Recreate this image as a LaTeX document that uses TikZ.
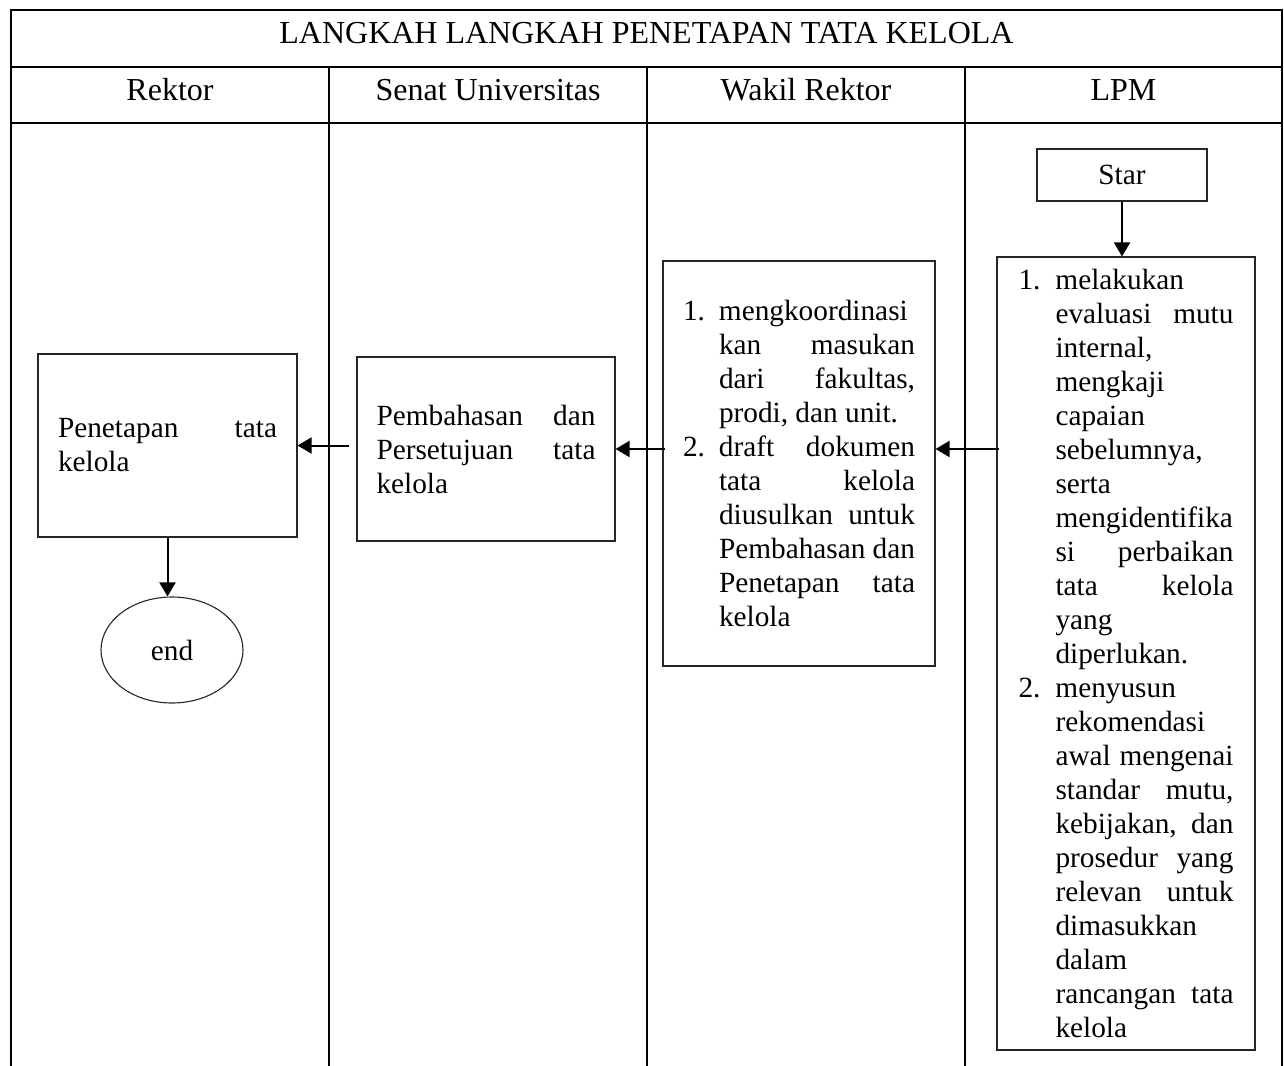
\documentclass[tikz,border=0pt]{standalone}
\usepackage{fontspec}
\setmainfont{Liberation Serif}
\usetikzlibrary{shapes.geometric,arrows.meta}
\newcommand{\jl}[2]{\makebox[#1][s]{#2}}
\begin{document}
\begin{tikzpicture}[x=1pt,y=-1pt,
  tbl/.style={line width=2.2pt},
  boxnode/.style={draw=black!85, line width=1.1pt, rectangle, inner sep=0pt, align=left,
    font=\fontsize{29.3}{34}\selectfont},
  hdr/.style={font=\fontsize{32}{37}\selectfont, anchor=base, inner sep=0pt},
  arr/.style={line width=2pt, -{Triangle[length=14pt,width=16pt]}}
]
\useasboundingbox (0,0) rectangle (1284,1065);

% table grid
\draw[tbl, line join=miter] (11,1070) -- (11,10) -- (1282,10) -- (1282,1070);
\draw[tbl] (11,67) -- (1282,67);
\draw[tbl] (11,123) -- (1282,123);
\foreach \x in {329,647,965} \draw[tbl] (\x,67) -- (\x,1070);

% headers
\node[hdr] (title) at (646.5,44) {LANGKAH LANGKAH PENETAPAN TATA KELOLA};
\node[hdr] (hrektor) at (170,100) {Rektor};
\node[hdr] (hsenat) at (488,100) {Senat Universitas};
\node[hdr] (hwakil) at (806,100) {Wakil Rektor};
\node[hdr] (hlpm) at (1123.5,100) {LPM};

% boxes
\node[boxnode, minimum width=259pt, minimum height=183pt] (rektor) at (167.5,445.5)
  {\jl{219pt}{Penetapan tata}\\ kelola};
\node[boxnode, minimum width=258pt, minimum height=184pt] (senat) at (486,449)
  {\jl{219pt}{Pembahasan dan}\\ \jl{219pt}{Persetujuan tata}\\ kelola};
\node[boxnode, minimum width=272pt, minimum height=405pt] (wakil) at (799,463.5)
  {\makebox[36pt][l]{1.}mengkoordinasi\\
   \hspace*{36pt}\jl{196pt}{kan masukan}\\
   \hspace*{36pt}\jl{196pt}{dari fakultas,}\\
   \hspace*{36pt}prodi, dan unit.\\
   \makebox[36pt][l]{2.}\jl{196pt}{draft dokumen}\\
   \hspace*{36pt}\jl{196pt}{tata kelola}\\
   \hspace*{36pt}\jl{196pt}{diusulkan untuk}\\
   \hspace*{36pt}\jl{196pt}{Pembahasan dan}\\
   \hspace*{36pt}\jl{196pt}{Penetapan tata}\\
   \hspace*{36pt}kelola};
\node[boxnode, minimum width=258pt, minimum height=793pt] (lpm) at (1126,653.5)
  {\makebox[37pt][l]{1.}melakukan\\
   \hspace*{37pt}\jl{178pt}{evaluasi mutu}\\
   \hspace*{37pt}internal,\\
   \hspace*{37pt}mengkaji\\
   \hspace*{37pt}capaian\\
   \hspace*{37pt}sebelumnya,\\
   \hspace*{37pt}serta\\
   \hspace*{37pt}mengidentifika\\
   \hspace*{37pt}\jl{178pt}{si perbaikan}\\
   \hspace*{37pt}\jl{178pt}{tata kelola}\\
   \hspace*{37pt}yang\\
   \hspace*{37pt}diperlukan.\\
   \makebox[37pt][l]{2.}menyusun\\
   \hspace*{37pt}rekomendasi\\
   \hspace*{37pt}\jl{178pt}{awal mengenai}\\
   \hspace*{37pt}\jl{178pt}{standar mutu,}\\
   \hspace*{37pt}\jl{178pt}{kebijakan, dan}\\
   \hspace*{37pt}\jl{178pt}{prosedur yang}\\
   \hspace*{37pt}\jl{178pt}{relevan untuk}\\
   \hspace*{37pt}dimasukkan\\
   \hspace*{37pt}dalam\\
   \hspace*{37pt}\jl{178pt}{rancangan tata}\\
   \hspace*{37pt}kelola};
\node[boxnode, align=center, minimum width=170pt, minimum height=52pt] (star) at (1122,175) {Star};
\node[draw=black!85, line width=1.1pt, ellipse, inner sep=0pt, minimum width=142pt, minimum height=106pt,
  font=\fontsize{29.3}{34}\selectfont] (end) at (172,650) {end};

% connectors
\draw[arr] (star.south) -- (star.south |- lpm.north);
\draw[arr] ([xshift=3pt]lpm.west |- senat.east) -- (wakil.east |- senat.east);
\draw[arr] ([xshift=3pt]wakil.west |- senat.east) -- (senat.east);
\draw[arr] ([xshift=-7pt]senat.west |- rektor.east) -- (rektor.east);
\draw[arr] (rektor.south) -- (rektor.south |- end.north);
\end{tikzpicture}
\end{document}
